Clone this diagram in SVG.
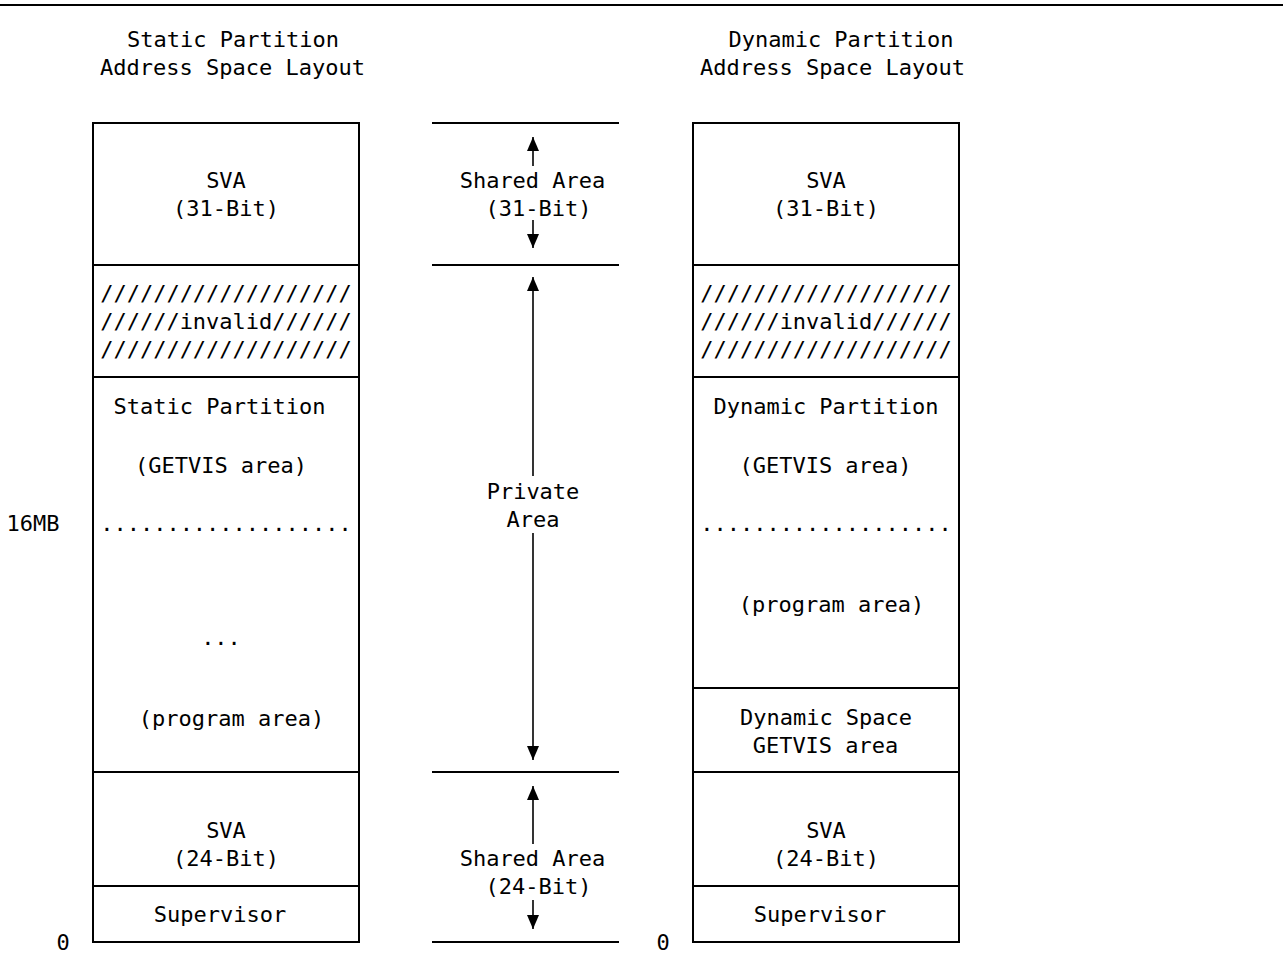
<svg xmlns="http://www.w3.org/2000/svg" width="1283" height="966" viewBox="0 0 1283 966">
<defs>
<style>
text{font-family:"DejaVu Sans Mono","Liberation Mono",monospace;font-size:22px;fill:#000;text-anchor:middle}
.box{fill:none;stroke:#000;stroke-width:2}
.ln{stroke:#000;stroke-width:2}
.ar{stroke:#000;stroke-width:1.6}
</style>
<marker id="ah" viewBox="0 0 14 12" refX="14" refY="6" markerWidth="14" markerHeight="12" markerUnits="userSpaceOnUse" orient="auto">
<path d="M0,0 L14,6 L0,12 Z" fill="#000"/>
</marker>
</defs>
<rect width="1283" height="966" fill="#fff"/>
<line class="ln" x1="0" y1="5" x2="1283" y2="5"/>

<g id="title-static">
<text x="233" y="47">Static Partition</text>
<text x="232.5" y="75">Address Space Layout</text>
</g>
<g id="title-dynamic">
<text x="841" y="47">Dynamic Partition</text>
<text x="832.5" y="75">Address Space Layout</text>
</g>

<g id="label-16mb"><text x="33" y="531">16MB</text></g>
<g id="label-0-left"><text x="63" y="950">0</text></g>
<g id="label-0-right"><text x="663" y="950">0</text></g>

<!-- Static partition column -->
<g id="static-sva31">
<rect class="box" x="93" y="123" width="266" height="142"/>
<text x="226" y="188">SVA</text>
<text x="226" y="216">(31-Bit)</text>
</g>
<g id="static-invalid">
<rect class="box" x="93" y="265" width="266" height="112"/>
<text x="226" y="301">///////////////////</text>
<text x="226" y="329">//////invalid//////</text>
<text x="226" y="357">///////////////////</text>
</g>
<g id="static-partition">
<rect class="box" x="93" y="377" width="266" height="395"/>
<text x="219.5" y="414">Static Partition</text>
<text x="221" y="473">(GETVIS area)</text>
<text x="226" y="531">...................</text>
<text x="221" y="645">...</text>
<text x="231.5" y="726">(program area)</text>
</g>
<g id="static-sva24">
<rect class="box" x="93" y="772" width="266" height="114"/>
<text x="226" y="838">SVA</text>
<text x="226" y="866">(24-Bit)</text>
</g>
<g id="static-supervisor">
<rect class="box" x="93" y="886" width="266" height="56"/>
<text x="220" y="922">Supervisor</text>
</g>

<!-- Middle column -->
<g id="mid-lines">
<line class="ln" x1="432" y1="123" x2="619" y2="123"/>
<line class="ln" x1="432" y1="265" x2="619" y2="265"/>
<line class="ln" x1="432" y1="772" x2="619" y2="772"/>
<line class="ln" x1="432" y1="942" x2="619" y2="942"/>
</g>
<g id="shared31">
<text x="532.5" y="188">Shared Area</text>
<text x="538.5" y="216">(31-Bit)</text>
</g>
<g id="private">
<text x="533" y="499">Private</text>
<text x="533" y="527">Area</text>
</g>
<g id="shared24">
<text x="532.5" y="866">Shared Area</text>
<text x="538.5" y="894">(24-Bit)</text>
</g>
<g id="connectors">
<line class="ar" x1="533" y1="166" x2="533" y2="137" marker-end="url(#ah)"/>
<line class="ar" x1="533" y1="220" x2="533" y2="248" marker-end="url(#ah)"/>
<line class="ar" x1="533" y1="476" x2="533" y2="277" marker-end="url(#ah)"/>
<line class="ar" x1="533" y1="533" x2="533" y2="760" marker-end="url(#ah)"/>
<line class="ar" x1="533" y1="844" x2="533" y2="786" marker-end="url(#ah)"/>
<line class="ar" x1="533" y1="900" x2="533" y2="929" marker-end="url(#ah)"/>
</g>

<!-- Dynamic partition column -->
<g id="dyn-sva31">
<rect class="box" x="693" y="123" width="266" height="142"/>
<text x="826" y="188">SVA</text>
<text x="826" y="216">(31-Bit)</text>
</g>
<g id="dyn-invalid">
<rect class="box" x="693" y="265" width="266" height="112"/>
<text x="826" y="301">///////////////////</text>
<text x="826" y="329">//////invalid//////</text>
<text x="826" y="357">///////////////////</text>
</g>
<g id="dyn-partition">
<rect class="box" x="693" y="377" width="266" height="311"/>
<text x="826" y="414">Dynamic Partition</text>
<text x="825.5" y="473">(GETVIS area)</text>
<text x="826" y="531">...................</text>
<text x="831.5" y="612">(program area)</text>
</g>
<g id="dyn-space">
<rect class="box" x="693" y="688" width="266" height="84"/>
<text x="826" y="725">Dynamic Space</text>
<text x="825.5" y="753">GETVIS area</text>
</g>
<g id="dyn-sva24">
<rect class="box" x="693" y="772" width="266" height="114"/>
<text x="826" y="838">SVA</text>
<text x="826" y="866">(24-Bit)</text>
</g>
<g id="dyn-supervisor">
<rect class="box" x="693" y="886" width="266" height="56"/>
<text x="820" y="922">Supervisor</text>
</g>
</svg>
